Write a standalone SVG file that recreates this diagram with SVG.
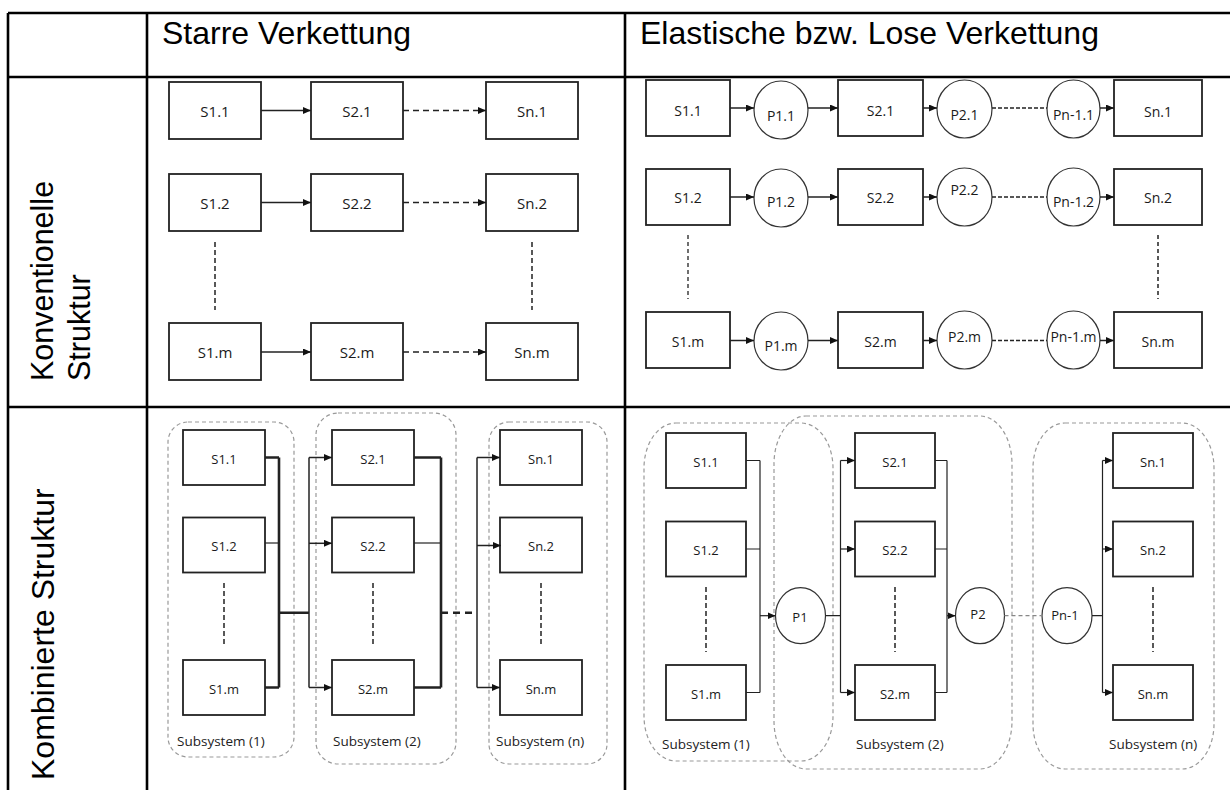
<svg xmlns="http://www.w3.org/2000/svg" width="1230" height="790" viewBox="0 0 1230 790">
<style>
.bg{fill:#fff}
.tbl{stroke:#000;stroke-width:2.6;fill:none}
.box{fill:#fff;stroke:#222;stroke-width:1.8}
.circ{fill:#fff;stroke:#333;stroke-width:1.2}
.lbl{font-family:"Open Sans","Liberation Sans",sans-serif;fill:#1a1a1a;text-anchor:middle}
.f15{font-size:15px}.f14{font-size:14px}.f13{font-size:13px}
.hdr{font-family:"Liberation Sans",Arial,sans-serif;font-size:32px;fill:#000}
.side{font-family:"Liberation Sans",Arial,sans-serif;font-size:30.5px;fill:#000}
.side2{font-family:"Liberation Sans",Arial,sans-serif;font-size:32px;fill:#000}
.sub{stroke:#999;stroke-width:1.2;stroke-dasharray:4 3;fill:none}
.subl{font-family:"Open Sans","Liberation Sans",sans-serif;font-size:13.5px;fill:#222}
.ln{stroke:#222;stroke-width:1.5;fill:none}
.thin{stroke-width:1.2}
.thick{stroke-width:2.6}
.dash{stroke-dasharray:6 4}
.dash2{stroke-dasharray:4 2}
.vd{stroke:#222;stroke-width:1.5;stroke-dasharray:5 3;fill:none}
.gd{stroke:#888;stroke-width:1.3;stroke-dasharray:4 3;fill:none}
</style>
<defs>
<marker id="ah" markerUnits="userSpaceOnUse" markerWidth="8" markerHeight="7" refX="8" refY="3.5" orient="auto"><path d="M0,0 L8,3.5 L0,7 z" fill="#111"/></marker>
</defs>
<rect class="bg" x="0" y="0" width="1230" height="790"/>

<g id="table">
<path class="tbl" d="M8,13 H1230 M8,77 H1230 M8,407 H1230 M8,13 V790 M147,13 V790 M625,13 V790"/>
<text class="hdr" x="162" y="44">Starre Verkettung</text>
<text class="hdr" x="640" y="44">Elastische bzw. Lose Verkettung</text>
<text class="side" transform="translate(53,381) rotate(-90)">Konventionelle</text>
<text class="side" transform="translate(90,381) rotate(-90)">Struktur</text>
<text class="side2" transform="translate(54,780) rotate(-90)">Kombinierte Struktur</text>
</g>

<!-- Top-left: Starre, konventionell -->
<g id="tl-s1-1"><rect class="box" x="169" y="82" width="92" height="57"/><text class="lbl f15" x="215" y="116.5">S1.1</text></g>
<g id="tl-s2-1"><rect class="box" x="311" y="82" width="92" height="57"/><text class="lbl f15" x="357" y="116.5">S2.1</text></g>
<g id="tl-sn-1"><rect class="box" x="486" y="82" width="92" height="57"/><text class="lbl f15" x="532" y="116.5">Sn.1</text></g>
<g id="tl-s1-2"><rect class="box" x="169" y="174" width="92" height="57"/><text class="lbl f15" x="215" y="208.5">S1.2</text></g>
<g id="tl-s2-2"><rect class="box" x="311" y="174" width="92" height="57"/><text class="lbl f15" x="357" y="208.5">S2.2</text></g>
<g id="tl-sn-2"><rect class="box" x="486" y="174" width="92" height="57"/><text class="lbl f15" x="532" y="208.5">Sn.2</text></g>
<g id="tl-s1-m"><rect class="box" x="169" y="323" width="92" height="57"/><text class="lbl f15" x="215" y="357.5">S1.m</text></g>
<g id="tl-s2-m"><rect class="box" x="311" y="323" width="92" height="57"/><text class="lbl f15" x="357" y="357.5">S2.m</text></g>
<g id="tl-sn-m"><rect class="box" x="486" y="323" width="92" height="57"/><text class="lbl f15" x="532" y="357.5">Sn.m</text></g>

<!-- Top-right: Elastisch, konventionell -->
<g id="tr-s1-1"><rect class="box" x="646" y="80" width="84" height="56"/><text class="lbl f14" x="688" y="116">S1.1</text></g>
<g id="tr-p1-1"><ellipse class="circ" cx="781" cy="110" rx="27" ry="29"/><text class="lbl f14" x="781" y="121">P1.1</text></g>
<g id="tr-s2-1"><rect class="box" x="838" y="80" width="85" height="56"/><text class="lbl f14" x="880.5" y="116">S2.1</text></g>
<g id="tr-p2-1"><ellipse class="circ" cx="964.5" cy="109" rx="27.5" ry="29"/><text class="lbl f14" x="964.5" y="120">P2.1</text></g>
<g id="tr-pn-1"><ellipse class="circ" cx="1073.5" cy="109" rx="26.5" ry="29"/><text class="lbl f14" x="1073.5" y="120">Pn-1.1</text></g>
<g id="tr-sn-1"><rect class="box" x="1114" y="80" width="88" height="56"/><text class="lbl f14" x="1158" y="117">Sn.1</text></g>

<g id="tr-s1-2"><rect class="box" x="646" y="169" width="84" height="56"/><text class="lbl f14" x="688" y="202.5">S1.2</text></g>
<g id="tr-p1-2"><ellipse class="circ" cx="781" cy="198" rx="27" ry="29"/><text class="lbl f14" x="781" y="207">P1.2</text></g>
<g id="tr-s2-2"><rect class="box" x="838" y="169" width="85" height="56"/><text class="lbl f14" x="880.5" y="202.5">S2.2</text></g>
<g id="tr-p2-2"><ellipse class="circ" cx="964.5" cy="197" rx="27.5" ry="29"/><text class="lbl f14" x="964.5" y="195">P2.2</text></g>
<g id="tr-pn-2"><ellipse class="circ" cx="1073.5" cy="197" rx="26.5" ry="29"/><text class="lbl f14" x="1073.5" y="207">Pn-1.2</text></g>
<g id="tr-sn-2"><rect class="box" x="1114" y="169" width="88" height="56"/><text class="lbl f14" x="1158" y="202.5">Sn.2</text></g>

<g id="tr-s1-m"><rect class="box" x="646" y="312" width="84" height="56"/><text class="lbl f14" x="688" y="347">S1.m</text></g>
<g id="tr-p1-m"><ellipse class="circ" cx="781" cy="341" rx="27" ry="29"/><text class="lbl f14" x="781" y="351">P1.m</text></g>
<g id="tr-s2-m"><rect class="box" x="838" y="312" width="85" height="56"/><text class="lbl f14" x="880.5" y="347">S2.m</text></g>
<g id="tr-p2-m"><ellipse class="circ" cx="964.5" cy="340" rx="27.5" ry="29"/><text class="lbl f14" x="964.5" y="342">P2.m</text></g>
<g id="tr-pn-m"><ellipse class="circ" cx="1073.5" cy="340" rx="26.5" ry="29"/><text class="lbl f14" x="1073.5" y="342">Pn-1.m</text></g>
<g id="tr-sn-m"><rect class="box" x="1114" y="312" width="88" height="56"/><text class="lbl f14" x="1158" y="347">Sn.m</text></g>

<!-- Bottom-left: Starre, kombiniert -->
<g id="bl-sub1"><rect class="sub" x="168" y="422" width="126" height="335" rx="20"/><text class="subl" x="177" y="746">Subsystem (1)</text></g>
<g id="bl-sub2"><rect class="sub" x="316" y="413" width="140" height="351" rx="22"/><text class="subl" x="333" y="746">Subsystem (2)</text></g>
<g id="bl-subn"><rect class="sub" x="489" y="422" width="118" height="342" rx="20"/><text class="subl" x="496" y="746">Subsystem (n)</text></g>
<g id="bl-s1-1"><rect class="box" x="183" y="430" width="82" height="55"/><text class="lbl f13" x="224" y="463.5">S1.1</text></g>
<g id="bl-s1-2"><rect class="box" x="183" y="517.5" width="82" height="55"/><text class="lbl f13" x="224" y="551">S1.2</text></g>
<g id="bl-s1-m"><rect class="box" x="183" y="660" width="82" height="55"/><text class="lbl f13" x="224" y="693.5">S1.m</text></g>
<g id="bl-s2-1"><rect class="box" x="332" y="430" width="82" height="55"/><text class="lbl f13" x="373" y="463.5">S2.1</text></g>
<g id="bl-s2-2"><rect class="box" x="332" y="517.5" width="82" height="55"/><text class="lbl f13" x="373" y="551">S2.2</text></g>
<g id="bl-s2-m"><rect class="box" x="332" y="660" width="82" height="55"/><text class="lbl f13" x="373" y="693.5">S2.m</text></g>
<g id="bl-sn-1"><rect class="box" x="500" y="430" width="82" height="55"/><text class="lbl f13" x="541" y="463.5">Sn.1</text></g>
<g id="bl-sn-2"><rect class="box" x="500" y="517.5" width="82" height="55"/><text class="lbl f13" x="541" y="551">Sn.2</text></g>
<g id="bl-sn-m"><rect class="box" x="500" y="660" width="82" height="55"/><text class="lbl f13" x="541" y="693.5">Sn.m</text></g>

<!-- Bottom-right: Elastisch, kombiniert -->
<g id="br-sub1"><rect class="sub" x="644" y="423" width="189" height="338" rx="32" ry="45"/><text class="subl" x="662" y="749">Subsystem (1)</text></g>
<g id="br-sub2"><rect class="sub" x="774" y="416" width="238" height="353" rx="32" ry="48"/><text class="subl" x="856" y="749">Subsystem (2)</text></g>
<g id="br-subn"><rect class="sub" x="1033" y="423" width="181" height="346" rx="32" ry="45"/><text class="subl" x="1109" y="749">Subsystem (n)</text></g>
<g id="br-s1-1"><rect class="box" x="666" y="433" width="80" height="55"/><text class="lbl f13" x="706" y="466.5">S1.1</text></g>
<g id="br-s1-2"><rect class="box" x="666" y="521.5" width="80" height="55"/><text class="lbl f13" x="706" y="555">S1.2</text></g>
<g id="br-s1-m"><rect class="box" x="666" y="665" width="80" height="55"/><text class="lbl f13" x="706" y="698.5">S1.m</text></g>
<g id="br-p1"><ellipse class="circ" cx="800.5" cy="615.7" rx="25" ry="28"/><text class="lbl f13" x="800" y="622">P1</text></g>
<g id="br-s2-1"><rect class="box" x="855" y="433" width="80" height="55"/><text class="lbl f13" x="895" y="466.5">S2.1</text></g>
<g id="br-s2-2"><rect class="box" x="855" y="521.5" width="80" height="55"/><text class="lbl f13" x="895" y="555">S2.2</text></g>
<g id="br-s2-m"><rect class="box" x="855" y="665" width="80" height="55"/><text class="lbl f13" x="895" y="698.5">S2.m</text></g>
<g id="br-p2"><ellipse class="circ" cx="980" cy="615.7" rx="24.5" ry="28"/><text class="lbl f13" x="978" y="618.5">P2</text></g>
<g id="br-pn"><ellipse class="circ" cx="1067" cy="615.7" rx="25" ry="28"/><text class="lbl f13" x="1065" y="620">Pn-1</text></g>
<g id="br-sn-1"><rect class="box" x="1113" y="433" width="80" height="55"/><text class="lbl f13" x="1153" y="466.5">Sn.1</text></g>
<g id="br-sn-2"><rect class="box" x="1113" y="521.5" width="80" height="55"/><text class="lbl f13" x="1153" y="555">Sn.2</text></g>
<g id="br-sn-m"><rect class="box" x="1113" y="665" width="80" height="55"/><text class="lbl f13" x="1153" y="698.5">Sn.m</text></g>

<g id="connectors">
<!-- top-left -->
<line class="ln" x1="261" y1="110.5" x2="311" y2="110.5" marker-end="url(#ah)"/>
<line class="ln" x1="261" y1="202.5" x2="311" y2="202.5" marker-end="url(#ah)"/>
<line class="ln" x1="261" y1="352" x2="311" y2="352" marker-end="url(#ah)"/>
<line class="ln dash" x1="403" y1="110.5" x2="486" y2="110.5" marker-end="url(#ah)"/>
<line class="ln dash" x1="403" y1="202.5" x2="486" y2="202.5" marker-end="url(#ah)"/>
<line class="ln dash" x1="403" y1="352" x2="486" y2="352" marker-end="url(#ah)"/>
<line class="vd" x1="215" y1="242" x2="215" y2="310"/>
<line class="vd" x1="532" y1="242" x2="532" y2="310"/>
<!-- top-right -->
<line class="ln" x1="730" y1="108" x2="754" y2="108" marker-end="url(#ah)"/>
<line class="ln" x1="808" y1="108" x2="838" y2="108" marker-end="url(#ah)"/>
<line class="ln" x1="923" y1="108" x2="937" y2="108" marker-end="url(#ah)"/>
<line class="ln dash2" x1="992" y1="108" x2="1047" y2="108"/>
<line class="ln" x1="1100" y1="108" x2="1114" y2="108" marker-end="url(#ah)"/>
<line class="ln" x1="730" y1="197" x2="754" y2="197" marker-end="url(#ah)"/>
<line class="ln" x1="808" y1="197" x2="838" y2="197" marker-end="url(#ah)"/>
<line class="ln" x1="923" y1="197" x2="937" y2="197" marker-end="url(#ah)"/>
<line class="ln dash2" x1="992" y1="197" x2="1047" y2="197"/>
<line class="ln" x1="1100" y1="197" x2="1114" y2="197" marker-end="url(#ah)"/>
<line class="ln" x1="730" y1="340.5" x2="754" y2="340.5" marker-end="url(#ah)"/>
<line class="ln" x1="808" y1="340.5" x2="838" y2="340.5" marker-end="url(#ah)"/>
<line class="ln" x1="923" y1="340.5" x2="937" y2="340.5" marker-end="url(#ah)"/>
<line class="ln dash2" x1="992" y1="340.5" x2="1047" y2="340.5"/>
<line class="ln" x1="1100" y1="340.5" x2="1114" y2="340.5" marker-end="url(#ah)"/>
<line class="vd" x1="688" y1="235" x2="688" y2="299" style="stroke-dasharray:4 3;stroke-width:1.3"/>
<line class="vd" x1="1158" y1="235" x2="1158" y2="299" style="stroke-dasharray:4 3"/>
<!-- bottom-left -->
<path class="ln thick" d="M265,457.5 H279 M265,687.5 H279 M279,457.5 V687.5 M279,612.7 H309"/>
<path class="ln thin" d="M265,543 H279"/>
<path class="ln" d="M309,457.5 V687.5"/>
<line class="ln" x1="309" y1="457.5" x2="332" y2="457.5" marker-end="url(#ah)"/>
<line class="ln" x1="309" y1="543.3" x2="332" y2="543.3" marker-end="url(#ah)"/>
<line class="ln" x1="309" y1="687.5" x2="332" y2="687.5" marker-end="url(#ah)"/>
<path class="ln thick" d="M414,457.5 H441 M414,687.5 H441 M441,457.5 V687.5"/>
<path class="ln thin" d="M414,543 H441"/>
<line class="ln thick" x1="441" y1="612.7" x2="477" y2="612.7" style="stroke-dasharray:7 5"/>
<path class="ln" d="M477,457.5 V687.5"/>
<line class="ln" x1="477" y1="457.5" x2="500" y2="457.5" marker-end="url(#ah)"/>
<line class="ln" x1="477" y1="545.5" x2="501" y2="545.5" marker-end="url(#ah)"/>
<line class="ln" x1="477" y1="687.5" x2="500" y2="687.5" marker-end="url(#ah)"/>
<line class="vd" x1="224" y1="583" x2="224" y2="647"/>
<line class="vd" x1="373" y1="583" x2="373" y2="647"/>
<line class="vd" x1="541" y1="583" x2="541" y2="647"/>
<!-- bottom-right -->
<path class="ln thin" d="M746,460.5 H760 M746,549 H760 M746,692.5 H760 M760,460.5 V692.5"/>
<line class="ln thin" x1="760" y1="615.7" x2="775.5" y2="615.7" marker-end="url(#ah)"/>
<path class="ln thin" d="M825.5,615.7 H840.5 M840.5,460.5 V692.5"/>
<line class="ln thin" x1="840.5" y1="460.5" x2="855" y2="460.5" marker-end="url(#ah)"/>
<line class="ln thin" x1="840.5" y1="549" x2="855" y2="549" marker-end="url(#ah)"/>
<line class="ln thin" x1="840.5" y1="692.5" x2="855" y2="692.5" marker-end="url(#ah)"/>
<path class="ln thin" d="M935,460.5 H947 M935,549 H947 M935,692.5 H947 M947,460.5 V692.5"/>
<line class="ln thin" x1="947" y1="615.7" x2="955.5" y2="615.7" marker-end="url(#ah)"/>
<line class="gd" x1="1004.5" y1="615.7" x2="1042" y2="615.7"/>
<path class="ln thin" d="M1092,615.7 H1102.5 M1102.5,460.5 V692.5"/>
<line class="ln thin" x1="1102.5" y1="460.5" x2="1113" y2="460.5" marker-end="url(#ah)"/>
<line class="ln thin" x1="1102.5" y1="549" x2="1113" y2="549" marker-end="url(#ah)"/>
<line class="ln thin" x1="1102.5" y1="692.5" x2="1113" y2="692.5" marker-end="url(#ah)"/>
<line class="vd" x1="706" y1="587" x2="706" y2="652"/>
<line class="vd" x1="895" y1="587" x2="895" y2="652"/>
<line class="vd" x1="1153" y1="587" x2="1153" y2="652"/>
</g>
</svg>
